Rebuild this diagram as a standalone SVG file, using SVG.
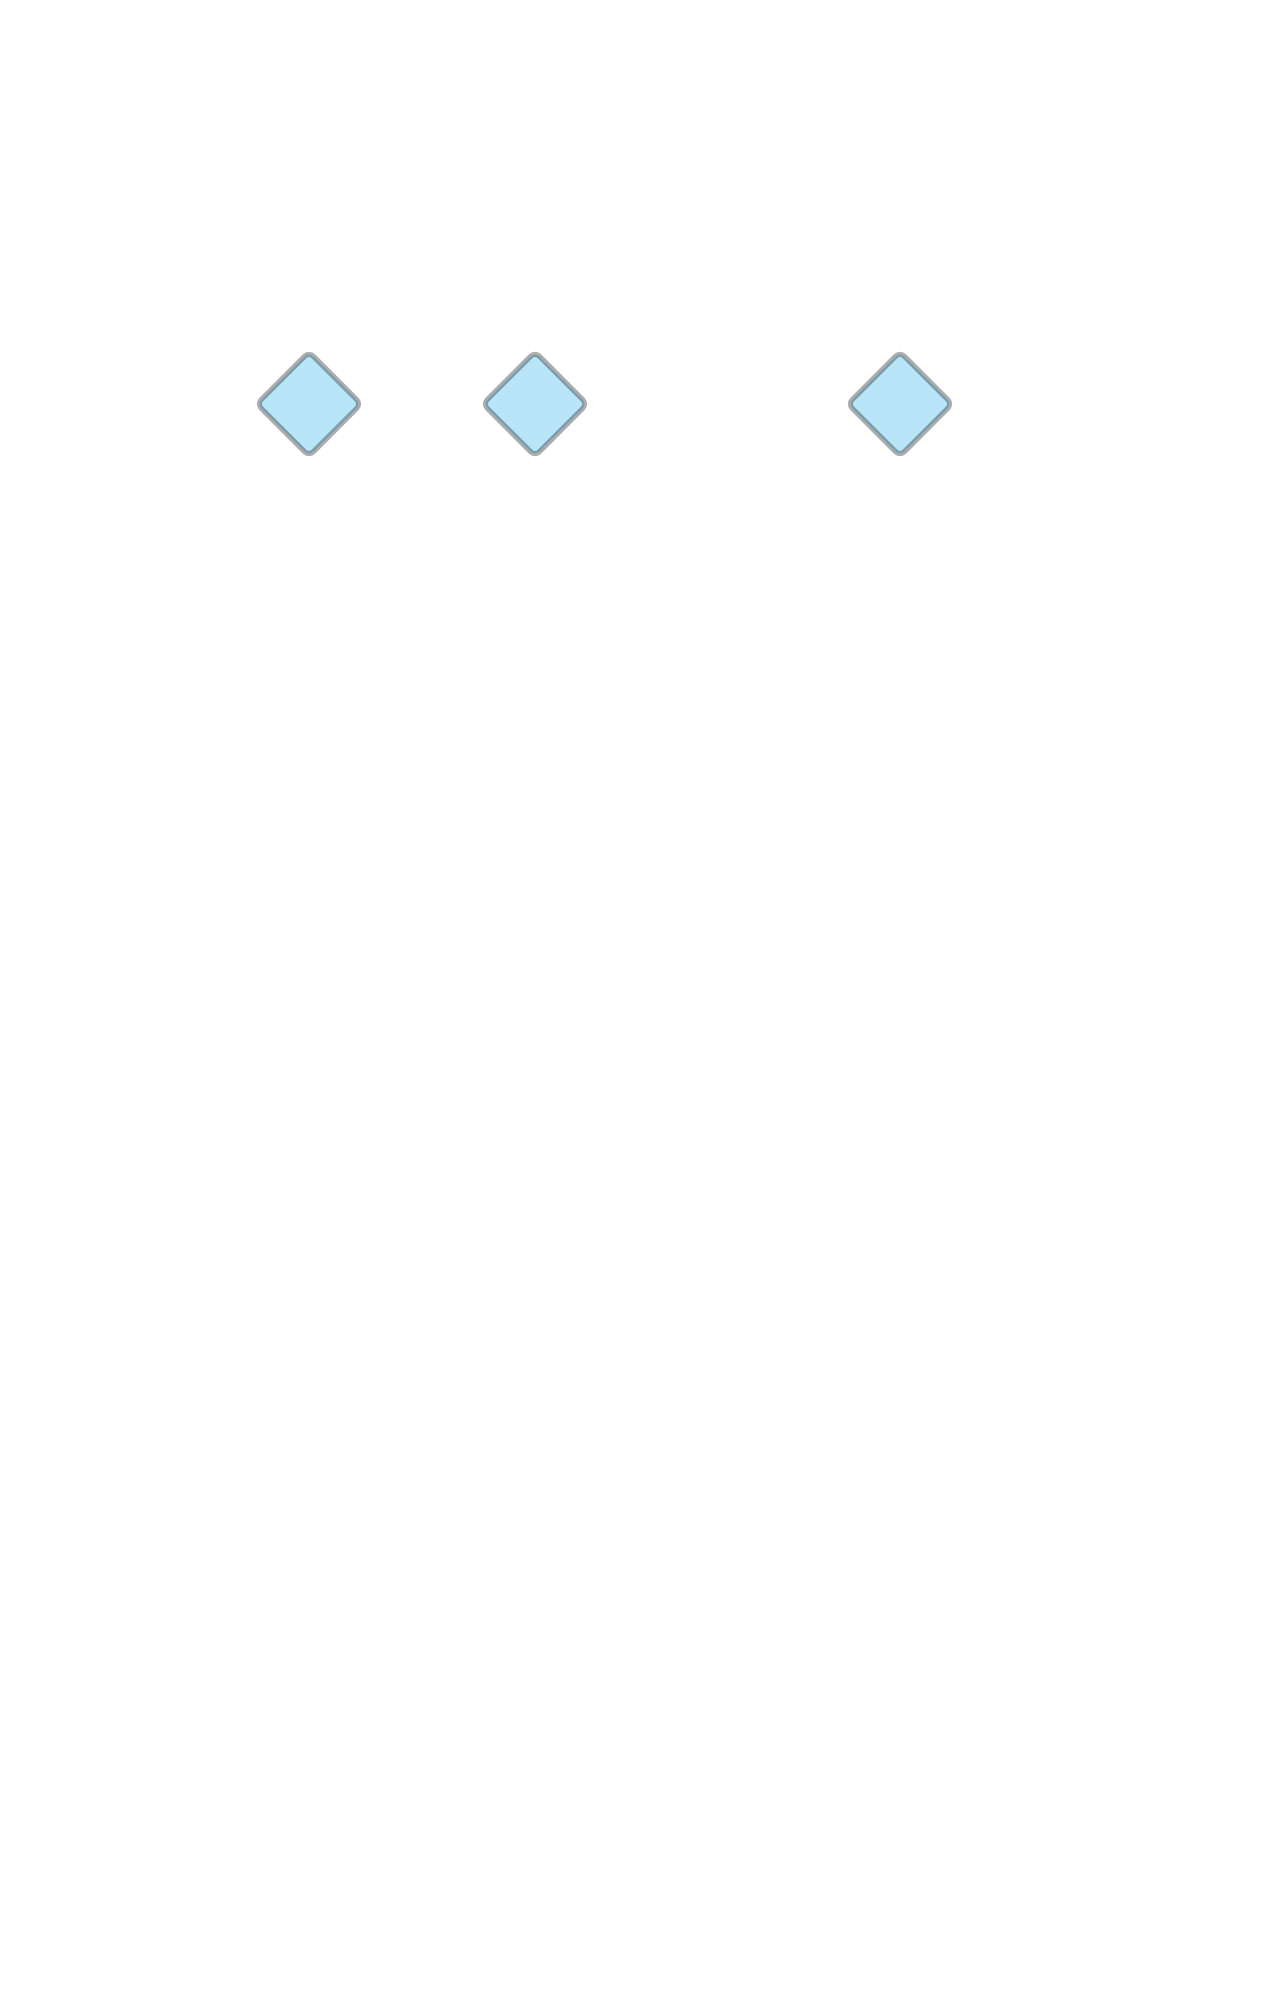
<svg xmlns="http://www.w3.org/2000/svg" width="1276" height="2000" viewBox="0 0 1276 2000">
<defs>
<style>
.halo{fill:none;stroke:#adadad;stroke-width:8}
.body{fill:#b9e5f8;stroke:#7b9dac;stroke-width:2.5}
</style>
</defs>
<rect width="1276" height="2000" fill="#ffffff"/>
<g id="connectors"></g>
<g id="node1" transform="translate(309,404) rotate(45)">
<rect class="halo" x="-35.5" y="-35.5" width="71" height="71" rx="5"/>
<rect class="body" x="-35.5" y="-35.5" width="71" height="71" rx="5"/>
</g>
<g id="node2" transform="translate(535,404) rotate(45)">
<rect class="halo" x="-35.5" y="-35.5" width="71" height="71" rx="5"/>
<rect class="body" x="-35.5" y="-35.5" width="71" height="71" rx="5"/>
</g>
<g id="node3" transform="translate(900,404) rotate(45)">
<rect class="halo" x="-35.5" y="-35.5" width="71" height="71" rx="5"/>
<rect class="body" x="-35.5" y="-35.5" width="71" height="71" rx="5"/>
</g>
</svg>
